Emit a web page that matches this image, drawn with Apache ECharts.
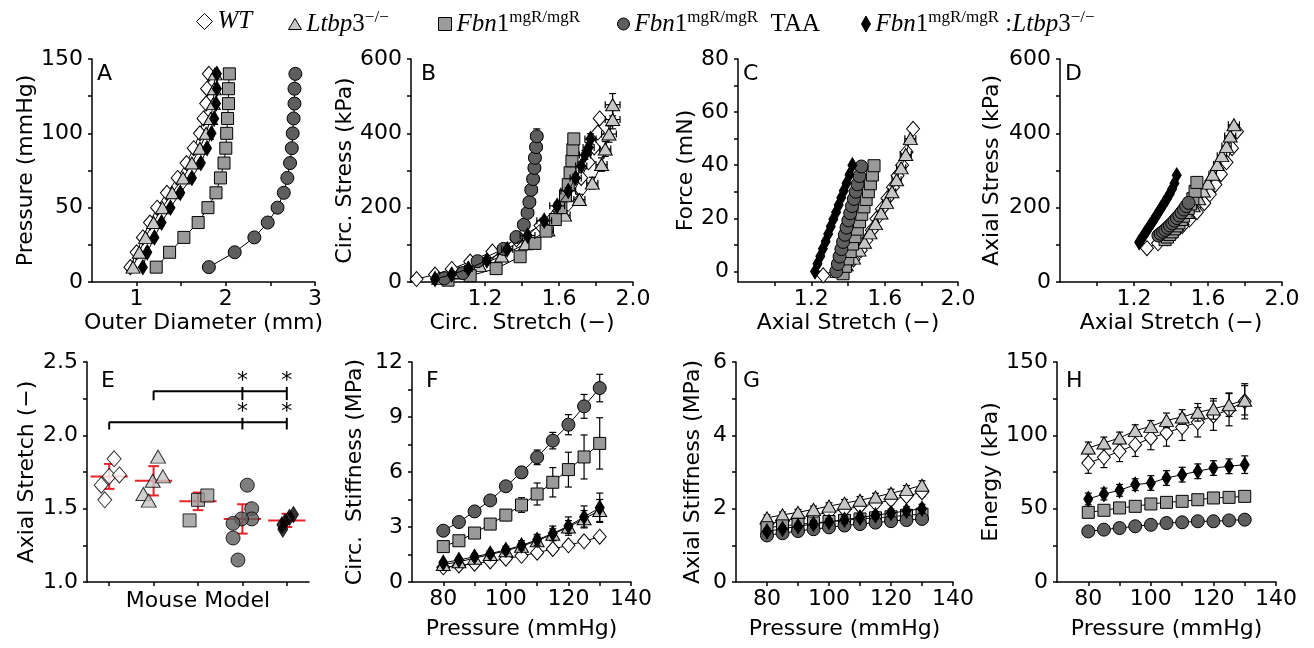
<!DOCTYPE html>
<html><head><meta charset="utf-8">
<script src="https://cdn.jsdelivr.net/npm/echarts@6/dist/echarts.min.js"></script>
<style>html,body{margin:0;padding:0;background:#fff}#c{width:1314px;height:648px}</style>
</head><body><div id="c"></div>
<script>
// ---------------- DATA ----------------
const groups = ['WT', 'Ltbp3', 'Fbn1', 'TAA', 'FL'];

// Panel A: pressure (mmHg) vs outer diameter (mm)
const pressureA = [10,20,30,40,50,60,70,80,90,100,110,120,130,140];
const diamA_WT  = [0.93,1.00,1.07,1.15,1.23,1.34,1.46,1.56,1.64,1.71,1.75,1.78,1.79,1.81];
const diamA_Lt  = [0.96,1.03,1.10,1.19,1.29,1.40,1.52,1.62,1.71,1.78,1.83,1.86,1.87,1.88];
const diamA_Fb  = [1.22,1.37,1.53,1.69,1.80,1.89,1.94,1.98,2.00,2.01,2.02,2.03,2.03,2.04];
const diamA_TAA = [1.81,2.10,2.32,2.47,2.58,2.65,2.69,2.72,2.74,2.75,2.76,2.77,2.77,2.78];
const diamA_FL  = [1.07,1.12,1.20,1.28,1.38,1.49,1.62,1.72,1.79,1.84,1.87,1.89,1.90,1.90];
const errA_WT  = [0.01,0.01,0.01,0.01,0.01,0.01,0.01,0.01,0.01,0.01,0.01,0.01,0.01,0.01];
const errA_Lt  = [0.01,0.01,0.01,0.01,0.01,0.01,0.02,0.02,0.02,0.02,0.02,0.02,0.02,0.02];
const errA_Fb  = [0.01,0.01,0.01,0.01,0.01,0.01,0.01,0.01,0.01,0.01,0.01,0.01,0.01,0.01];
const errA_TAA = [0.02,0.03,0.03,0.03,0.03,0.03,0.03,0.03,0.03,0.03,0.03,0.03,0.03,0.03];
const errA_FL  = [0.01,0.01,0.02,0.02,0.02,0.03,0.03,0.03,0.02,0.02,0.02,0.02,0.02,0.02];

// Panel B: circumferential stretch vs circumferential stress (kPa)
const stB_WT  = [0.83,0.93,1.02,1.12,1.24,1.37,1.50,1.60,1.67,1.72,1.76,1.79,1.81,1.82];
const sB_WT   = [8,20,35,55,82,115,152,192,236,280,322,362,402,440];
const stB_Lt  = [0.95,1.06,1.17,1.29,1.42,1.54,1.63,1.71,1.78,1.83,1.85,1.87,1.89,1.89];
const sB_Lt   = [10,24,44,70,103,140,180,222,266,316,358,398,437,477];
const stB_Fb  = [1.00,1.12,1.26,1.39,1.47,1.53,1.58,1.61,1.635,1.65,1.66,1.67,1.675,1.68];
const sB_Fb   = [5,17,36,68,104,137,168,200,232,262,294,326,356,385];
const stB_TAA = [0.98,1.08,1.16,1.30,1.37,1.41,1.43,1.44,1.45,1.46,1.467,1.47,1.476,1.48];
const sB_TAA  = [10,24,56,89,121,154,186,215,248,277,307,334,363,392];
const stB_FL  = [0.93,1.02,1.11,1.21,1.32,1.43,1.52,1.59,1.65,1.69,1.72,1.74,1.76,1.77];
const sB_FL   = [8,20,36,58,88,125,165,205,245,280,312,342,362,385];
const exB_WT  = [0.01,0.01,0.01,0.01,0.01,0.01,0.01,0.01,0.01,0.01,0.01,0.01,0.01,0.01];
const eyB_WT  = [1,1,2,2,3,3,4,4,5,5,6,6,7,8];
const exB_Lt  = [0.01,0.01,0.02,0.02,0.02,0.03,0.03,0.03,0.03,0.03,0.03,0.04,0.04,0.04];
const eyB_Lt  = [2,3,4,6,8,10,12,14,16,18,20,22,25,30];
const exB_Fb  = [0.01,0.01,0.01,0.01,0.01,0.015,0.015,0.015,0.015,0.015,0.015,0.015,0.015,0.015];
const eyB_Fb  = [1,2,3,4,5,6,7,8,9,10,11,12,13,14];
const exB_TAA = [0.01,0.02,0.02,0.03,0.03,0.03,0.03,0.03,0.03,0.03,0.03,0.03,0.03,0.03];
const eyB_TAA = [2,3,4,5,6,8,9,10,11,12,14,15,17,20];
const exB_FL  = [0.01,0.01,0.02,0.02,0.03,0.04,0.04,0.04,0.04,0.03,0.03,0.03,0.03,0.03];
const eyB_FL  = [1,2,3,4,5,6,7,8,9,10,11,12,13,14];

// Panel C: axial stretch vs force (mN)
const stC_WT  = [1.265,1.36,1.43,1.47,1.50,1.53,1.555,1.585,1.615,1.645,1.67,1.695,1.72,1.755];
const fC_WT   = [-1.5,1.5,4.5,8,11.7,15.5,19.8,23.5,27.5,31.7,36,40,45,53.7];
const stC_Lt  = [1.34,1.39,1.43,1.46,1.49,1.52,1.55,1.58,1.61,1.64,1.665,1.69,1.715,1.74];
const fC_Lt   = [0,2.5,5,8,11,14.5,18,22,26,30,34.5,39,44,50];
const stC_Fb  = [1.373,1.386,1.399,1.412,1.425,1.438,1.451,1.463,1.475,1.487,1.499,1.511,1.522,1.533,1.542];
const fC_Fb   = [-0.9,1.9,4.7,7.5,10.3,13.1,15.9,18.7,21.5,24.3,27.1,30.0,33.0,36.3,39.8];
const stC_TAA = [1.336,1.345,1.354,1.364,1.373,1.383,1.392,1.402,1.412,1.422,1.432,1.442,1.452,1.462,1.473];
const fC_TAA  = [0.0,2.8,5.6,8.4,11.1,13.8,16.5,19.2,21.9,24.6,27.3,30.0,32.8,35.9,39.5];
const stC_FL  = [1.220,1.234,1.249,1.263,1.278,1.292,1.306,1.320,1.335,1.349,1.363,1.377,1.392,1.408,1.424];
const fC_FL   = [0.0,2.9,5.7,8.5,11.3,14.1,16.9,19.6,22.3,25.0,27.7,30.4,33.2,36.4,40.0];
const exC_Lt  = [0.005,0.005,0.01,0.01,0.01,0.01,0.015,0.015,0.02,0.02,0.025,0.025,0.03,0.03];
const exC_Fb  = [0.005,0.005,0.005,0.005,0.01,0.01,0.01,0.01,0.01,0.01,0.01,0.01,0.01,0.01,0.01];

// Panel D: axial stretch vs axial stress (kPa)
const stD_WT  = [1.27,1.33,1.38,1.42,1.46,1.50,1.54,1.58,1.61,1.64,1.67,1.70,1.73,1.757];
const sD_WT   = [91,104,118,133,150,168,188,212,236,262,290,322,360,405];
const stD_Lt  = [1.40,1.43,1.46,1.49,1.52,1.55,1.575,1.60,1.625,1.65,1.675,1.70,1.72,1.74];
const sD_Lt   = [140,155,170,187,205,224,245,266,290,316,340,365,393,423];
const stD_Fb  = [1.368,1.381,1.393,1.406,1.418,1.431,1.443,1.456,1.468,1.481,1.493,1.506,1.518,1.530,1.540];
const sD_Fb   = [114,121,128,135,143,151,159,168,177,187,198,210,224,244,268];
const stD_TAA = [1.332,1.344,1.357,1.369,1.382,1.394,1.407,1.419,1.432,1.445,1.457,1.470,1.482,1.495];
const sD_TAA  = [125,130,135,140,146,152,158,165,172,179,187,195,204,213];
const stD_FL  = [1.228,1.243,1.258,1.273,1.288,1.303,1.318,1.333,1.348,1.363,1.378,1.393,1.406,1.419,1.431];
const sD_FL   = [107,118,130,141,153,164,176,188,200,212,224,237,250,266,287];
const exD_Lt  = [0.005,0.005,0.01,0.01,0.01,0.01,0.015,0.015,0.02,0.02,0.025,0.025,0.03,0.03];

// Panel E: axial stretch per mouse model (category index + jitter)
const jitE_WT  = [0.11,-0.18,0.00,0.23,-0.10];
const valE_WT  = [1.84,1.66,1.72,1.73,1.56];
const jitE_Lt  = [0.10,-0.02,0.21,-0.23,-0.11];
const valE_Lt  = [1.855,1.69,1.72,1.60,1.555];
const jitE_Fb  = [0.00,0.21,-0.19];
const valE_Fb  = [1.56,1.59,1.42];
const jitE_TAA = [0.11,0.21,0.21,-0.02,-0.21,-0.21,-0.10];
const valE_TAA = [1.66,1.50,1.43,1.43,1.40,1.30,1.15];
const jitE_FL  = [0.15,0.06,-0.04,-0.11,-0.09];
const valE_FL  = [1.46,1.44,1.41,1.39,1.36];
const meanE = [1.72,1.69,1.55,1.43,1.42];
const seE   = [0.085,0.10,0.06,0.10,0.045];
const bracketFrom = [0,1];
const bracketTo   = [4,4];
const bracketY    = [2.09,2.30];
const bracketDrop = [2.04,2.24];
const bracketTip  = [2.12,2.33];
const starCats    = [3,4];
const starY       = [2.16,2.37];

// Panels F, G, H: vs pressure
const pressureFGH = [80,85,90,95,100,105,110,115,120,125,130];
const F_WT  = [0.80,0.90,1.00,1.12,1.27,1.43,1.60,1.80,2.00,2.22,2.47];
const F_Lt  = [0.95,1.10,1.30,1.50,1.70,1.95,2.25,2.60,3.00,3.45,3.90];
const F_Fb  = [1.93,2.25,2.67,3.16,3.65,4.20,4.80,5.44,6.13,6.82,7.56];
const F_TAA = [2.80,3.27,3.85,4.45,5.22,5.98,6.80,7.71,8.58,9.58,10.58];
const F_FL  = [1.05,1.20,1.38,1.55,1.75,2.00,2.30,2.65,3.05,3.55,4.05];
const eF_WT  = [0.05,0.05,0.05,0.05,0.06,0.06,0.07,0.08,0.09,0.10,0.12];
const eF_Lt  = [0.10,0.10,0.10,0.15,0.15,0.20,0.25,0.30,0.35,0.45,0.60];
const eF_Fb  = [0.15,0.15,0.20,0.25,0.30,0.40,0.60,0.80,0.95,1.20,1.40];
const eF_TAA = [0.10,0.10,0.12,0.15,0.20,0.30,0.40,0.45,0.55,0.65,0.75];
const eF_FL  = [0.10,0.10,0.15,0.15,0.20,0.25,0.30,0.40,0.50,0.60,0.80];

const G_WT  = [1.58,1.66,1.74,1.82,1.90,1.98,2.06,2.14,2.24,2.34,2.45];
const G_Lt  = [1.75,1.83,1.90,1.98,2.07,2.15,2.23,2.32,2.42,2.52,2.64];
const G_Fb  = [1.48,1.53,1.57,1.61,1.65,1.68,1.72,1.75,1.78,1.82,1.85];
const G_TAA = [1.27,1.33,1.39,1.44,1.49,1.54,1.58,1.62,1.66,1.69,1.72];
const G_FL  = [1.38,1.45,1.52,1.58,1.64,1.70,1.76,1.82,1.88,1.94,2.00];
const eG_all = [0.08,0.08,0.08,0.09,0.09,0.10,0.10,0.10,0.11,0.11,0.12];

const H_WT  = [81.1,85.0,89.1,93.6,98.2,101.6,105.5,108.9,113.4,117.5,123.2];
const H_Lt  = [91.4,94.8,98.2,103.2,106.1,110.2,112.5,115.7,118.0,120.9,123.9];
const H_Fb  = [47.5,48.9,50.5,51.6,53.2,54.3,55.0,56.1,57.3,57.7,58.4];
const H_TAA = [34.5,35.7,36.8,38.0,39.0,40.2,40.7,41.4,41.4,42.0,42.5];
const H_FL  = [56.6,60.0,62.5,66.4,67.5,70.9,73.2,75.5,77.7,78.9,80.0];
const eH_WT  = [7,7,7,8,8,9,9,10,10,11,12];
const eH_Lt  = [4,4,4,4,4,5,5,6,7,8,10];
const eH_Fb  = [3,3,3,3,3,3,3,3,3,3,3];
const eH_TAA = [1,1,1,1,1,1,1,1,1,1,1];
const eH_FL  = [4,4,4,4,5,5,5,5,5,5,6];

// Tick values / labels
const ticksA_x = [1,1.5,2,2.5,3], labelsA_x = [1,2,3];
const ticksA_y = [0,25,50,75,100,125,150], labelsA_y = [0,50,100,150];
const ticksStretch = [1.0,1.2,1.4,1.6,1.8,2.0], labelsStretch = [1.2,1.6,2.0];
const ticksB_y = [0,100,200,300,400,500,600], labelsB_y = [0,200,400,600];
const ticksC_y = [0,10,20,30,40,50,60,70,80], labelsC_y = [0,20,40,60,80];
const ticksE_x = [0,1,2,3,4];
const ticksE_y = [1.0,1.25,1.5,1.75,2.0,2.25,2.5], labelsE_y = [1.0,1.5,2.0,2.5];
const ticksP = [80,90,100,110,120,130,140], labelsP = [80,100,120,140];
const ticksF_y = [0,1.5,3,4.5,6,7.5,9,10.5,12], labelsF_y = [0,3,6,9,12];
const ticksG_y = [0,1,2,3,4,5,6], labelsG_y = [0,2,4,6];
const ticksH_y = [0,25,50,75,100,125,150], labelsH_y = [0,50,100,150];

// ---------------- STYLE ----------------
const FONT = 'DejaVu Sans';
const FS = 22;
const groupStyle = {
  WT:    {symbol:'diamond',  size:[13,15], color:'#ffffff'},
  Ltbp3: {symbol:'triangle', size:[14,12], color:'#c6c6c6'},
  Fbn1:  {symbol:'rect',     size:[12,12], color:'#9a9a9a'},
  TAA:   {symbol:'circle',   size:[13,13], color:'#5e5e5e'},
  FL:    {symbol:'diamond',  size:[9,15],  color:'#000000'}
};
const grids = [
  {left:92,  top:59,  width:223, height:223},
  {left:411, top:59,  width:222, height:223},
  {left:738, top:59,  width:220, height:223},
  {left:1060,top:59,  width:222, height:223},
  {left:87,  top:362, width:222, height:220},
  {left:412, top:362, width:219, height:220},
  {left:736, top:362, width:217, height:220},
  {left:1057,top:362, width:219, height:220}
];

function axisBase(ticks, labels, fmt, margin) {
  return {
    axisLine:{show:true, onZero:false, lineStyle:{color:'#000', width:1.5}},
    axisTick:{show:true, inside:false, length:4, lineStyle:{color:'#000', width:1.5}, customValues:ticks},
    axisLabel:{show:labels !== null, customValues:labels || [], margin:margin, color:'#000', fontSize:FS, fontFamily:FONT,
      formatter: fmt || (v => String(v))},
    splitLine:{show:false},
    nameTextStyle:{color:'#000', fontSize:FS, fontFamily:FONT}
  };
}
const f1 = v => Number(v).toFixed(1);
function xAxisDef(gi, min, max, ticks, labels, name, gap, fmt) {
  return Object.assign(axisBase(ticks, labels, fmt, 6), {type:'value', gridIndex:gi, min, max, name, nameLocation:'middle', nameGap:gap});
}
function yAxisDef(gi, min, max, ticks, labels, name, gap, fmt) {
  return Object.assign(axisBase(ticks, labels, fmt, 9), {type:'value', gridIndex:gi, min, max, name, nameLocation:'middle', nameGap:gap});
}

const xAxes = [
  xAxisDef(0, 0.5, 3, ticksA_x, labelsA_x, 'Outer Diameter (mm)', 30),
  xAxisDef(1, 0.8, 2.0, ticksStretch, labelsStretch, 'Circ.  Stretch (\u2212)', 30, f1),
  xAxisDef(2, 0.8, 2.0, ticksStretch, labelsStretch, 'Axial Stretch (\u2212)', 30, f1),
  xAxisDef(3, 0.8, 2.0, ticksStretch, labelsStretch, 'Axial Stretch (\u2212)', 30, f1),
  xAxisDef(4, -0.5, 4.5, ticksE_x, null, 'Mouse Model', 8),
  xAxisDef(5, 70, 140, ticksP, labelsP, 'Pressure (mmHg)', 36),
  xAxisDef(6, 70, 140, ticksP, labelsP, 'Pressure (mmHg)', 36),
  xAxisDef(7, 70, 140, ticksP, labelsP, 'Pressure (mmHg)', 36)
];
const yAxes = [
  yAxisDef(0, 0, 150, ticksA_y, labelsA_y, 'Pressure (mmHg)', 50),
  yAxisDef(1, 0, 600, ticksB_y, labelsB_y, 'Circ. Stress (kPa)', 55),
  yAxisDef(2, -4, 80, ticksC_y, labelsC_y, 'Force (mN)', 40),
  yAxisDef(3, 0, 600, ticksB_y, labelsB_y, 'Axial Stress (kPa)', 57),
  yAxisDef(4, 1.0, 2.5, ticksE_y, labelsE_y, 'Axial Stretch (\u2212)', 49, f1),
  yAxisDef(5, 0, 12, ticksF_y, labelsF_y, 'Circ.  Stiffness (MPa)', 46),
  yAxisDef(6, 0, 6, ticksG_y, labelsG_y, 'Axial Stiffness (MPa)', 32),
  yAxisDef(7, 0, 150, ticksH_y, labelsH_y, 'Energy (kPa)', 51)
];

const series = [];
function zip(xs, ys) { return xs.map((x, i) => [x, ys[i]]); }
function curve(gi, g, xs, ys) {
  const st = groupStyle[g];
  const gIdx = groups.indexOf(g);
  series.push({
    type:'line', name:g, xAxisIndex:gi, yAxisIndex:gi, data:zip(xs, ys),
    symbol:st.symbol, symbolSize:st.size, showSymbol:true,
    lineStyle:{color:'#000', width:1},
    itemStyle:{color:st.color, borderColor:'#000', borderWidth:1},
    emphasis:{disabled:true}, animation:false, z: 3 + 2 * gIdx, silent:true
  });
}
function errRender(params, api) {
  const x = api.value(0), y = api.value(1), ex = api.value(2), ey = api.value(3);
  const c = api.coord([x, y]);
  const cap = 3.5;
  const st = {stroke:'#000', lineWidth:1.2};
  const ch = [];
  if (ex > 0) {
    const l = api.coord([x - ex, y]), r = api.coord([x + ex, y]);
    ch.push({type:'line', shape:{x1:l[0], y1:c[1], x2:r[0], y2:c[1]}, style:st});
    ch.push({type:'line', shape:{x1:l[0], y1:c[1]-cap, x2:l[0], y2:c[1]+cap}, style:st});
    ch.push({type:'line', shape:{x1:r[0], y1:c[1]-cap, x2:r[0], y2:c[1]+cap}, style:st});
  }
  if (ey > 0) {
    const t = api.coord([x, y + ey]), b = api.coord([x, y - ey]);
    ch.push({type:'line', shape:{x1:c[0], y1:t[1], x2:c[0], y2:b[1]}, style:st});
    ch.push({type:'line', shape:{x1:c[0]-cap, y1:t[1], x2:c[0]+cap, y2:t[1]}, style:st});
    ch.push({type:'line', shape:{x1:c[0]-cap, y1:b[1], x2:c[0]+cap, y2:b[1]}, style:st});
  }
  return {type:'group', children:ch};
}
function errs(gi, g, xs, ys, ex, ey) {
  const gIdx = groups.indexOf(g);
  series.push({
    type:'custom', xAxisIndex:gi, yAxisIndex:gi, renderItem:errRender,
    data: xs.map((x, i) => [x, ys[i], ex ? ex[i] : 0, ey ? ey[i] : 0]),
    encode:{x:0, y:1}, animation:false, silent:true, z: 2 + 2 * gIdx
  });
}

// Panel A
errs(0,'WT',diamA_WT,pressureA,errA_WT,null);   curve(0,'WT',diamA_WT,pressureA);
errs(0,'Ltbp3',diamA_Lt,pressureA,errA_Lt,null); curve(0,'Ltbp3',diamA_Lt,pressureA);
errs(0,'Fbn1',diamA_Fb,pressureA,errA_Fb,null);  curve(0,'Fbn1',diamA_Fb,pressureA);
errs(0,'TAA',diamA_TAA,pressureA,errA_TAA,null); curve(0,'TAA',diamA_TAA,pressureA);
errs(0,'FL',diamA_FL,pressureA,errA_FL,null);    curve(0,'FL',diamA_FL,pressureA);
// Panel B
errs(1,'WT',stB_WT,sB_WT,exB_WT,eyB_WT);         curve(1,'WT',stB_WT,sB_WT);
errs(1,'Ltbp3',stB_Lt,sB_Lt,exB_Lt,eyB_Lt);      curve(1,'Ltbp3',stB_Lt,sB_Lt);
errs(1,'Fbn1',stB_Fb,sB_Fb,exB_Fb,eyB_Fb);       curve(1,'Fbn1',stB_Fb,sB_Fb);
errs(1,'TAA',stB_TAA,sB_TAA,exB_TAA,eyB_TAA);    curve(1,'TAA',stB_TAA,sB_TAA);
errs(1,'FL',stB_FL,sB_FL,exB_FL,eyB_FL);         curve(1,'FL',stB_FL,sB_FL);
// Panel C
curve(2,'WT',stC_WT,fC_WT);
errs(2,'Ltbp3',stC_Lt,fC_Lt,exC_Lt,null);        curve(2,'Ltbp3',stC_Lt,fC_Lt);
errs(2,'Fbn1',stC_Fb,fC_Fb,exC_Fb,null);         curve(2,'Fbn1',stC_Fb,fC_Fb);
curve(2,'TAA',stC_TAA,fC_TAA);
curve(2,'FL',stC_FL,fC_FL);
// Panel D
curve(3,'WT',stD_WT,sD_WT);
errs(3,'Ltbp3',stD_Lt,sD_Lt,exD_Lt,null);        curve(3,'Ltbp3',stD_Lt,sD_Lt);
curve(3,'Fbn1',stD_Fb,sD_Fb);
curve(3,'TAA',stD_TAA,sD_TAA);
curve(3,'FL',stD_FL,sD_FL);

// Panel E
const eGroups = [[jitE_WT,valE_WT,'WT'],[jitE_Lt,valE_Lt,'Ltbp3'],[jitE_Fb,valE_Fb,'Fbn1'],[jitE_TAA,valE_TAA,'TAA'],[jitE_FL,valE_FL,'FL']];
series.push({
  type:'custom', xAxisIndex:4, yAxisIndex:4, animation:false, silent:true, z:1,
  data: meanE.map((m, i) => [i, m, seE[i]]), encode:{x:0, y:1},
  renderItem:(params, api) => {
    const i = api.value(0), m = api.value(1), se = api.value(2);
    const st = {stroke:'#e8232a', lineWidth:2};
    const a = api.coord([i - 0.42, m]), b = api.coord([i + 0.42, m]);
    const t = api.coord([i, m + se]), d = api.coord([i, m - se]);
    const cl = api.coord([i - 0.12, m])[0], cr = api.coord([i + 0.12, m])[0];
    return {type:'group', children:[
      {type:'line', shape:{x1:a[0], y1:a[1], x2:b[0], y2:b[1]}, style:st},
      {type:'line', shape:{x1:t[0], y1:t[1], x2:d[0], y2:d[1]}, style:st},
      {type:'line', shape:{x1:cl, y1:t[1], x2:cr, y2:t[1]}, style:st},
      {type:'line', shape:{x1:cl, y1:d[1], x2:cr, y2:d[1]}, style:st}
    ]};
  }
});
eGroups.forEach(([jit, vals, g], ci) => {
  const st = groupStyle[g];
  series.push({
    type:'scatter', name:g, xAxisIndex:4, yAxisIndex:4,
    data: jit.map((j, k) => [ci + j, vals[k]]),
    symbol:st.symbol, symbolSize: g === 'FL' ? [10,16] : [st.size[0] + 1, st.size[1] + 1],
    itemStyle:{color:st.color, borderColor:'#000', borderWidth:1},
    emphasis:{disabled:true}, animation:false, silent:true, z:5
  });
});
bracketFrom.forEach((fr, k) => {
  series.push({type:'line', xAxisIndex:4, yAxisIndex:4, symbol:'none', animation:false, silent:true, z:4,
    lineStyle:{color:'#000', width:2},
    data:[[fr, bracketDrop[k]], [fr, bracketY[k]], [bracketTo[k], bracketY[k]]]});
  starCats.forEach(sc => {
    series.push({type:'line', xAxisIndex:4, yAxisIndex:4, symbol:'none', animation:false, silent:true, z:4,
      lineStyle:{color:'#000', width:2},
      data:[[sc, bracketDrop[k]], [sc, bracketTip[k]]]});
  });
});
series.push({
  type:'custom', xAxisIndex:4, yAxisIndex:4, animation:false, silent:true, z:6,
  data: starY.flatMap(y => starCats.map(c => [c, y])), encode:{x:0, y:1},
  renderItem:(params, api) => {
    const p = api.coord([api.value(0), api.value(1)]);
    return {type:'text', x:p[0], y:p[1], style:{text:'*', fill:'#000', font:'22px "DejaVu Sans"', align:'center', verticalAlign:'middle'}};
  }
});

// Panel F
errs(5,'WT',pressureFGH,F_WT,null,eF_WT);     curve(5,'WT',pressureFGH,F_WT);
errs(5,'Ltbp3',pressureFGH,F_Lt,null,eF_Lt);  curve(5,'Ltbp3',pressureFGH,F_Lt);
errs(5,'Fbn1',pressureFGH,F_Fb,null,eF_Fb);   curve(5,'Fbn1',pressureFGH,F_Fb);
errs(5,'TAA',pressureFGH,F_TAA,null,eF_TAA);  curve(5,'TAA',pressureFGH,F_TAA);
errs(5,'FL',pressureFGH,F_FL,null,eF_FL);     curve(5,'FL',pressureFGH,F_FL);
// Panel G
errs(6,'WT',pressureFGH,G_WT,null,eG_all);    curve(6,'WT',pressureFGH,G_WT);
errs(6,'Ltbp3',pressureFGH,G_Lt,null,eG_all); curve(6,'Ltbp3',pressureFGH,G_Lt);
errs(6,'Fbn1',pressureFGH,G_Fb,null,eG_all);  curve(6,'Fbn1',pressureFGH,G_Fb);
errs(6,'TAA',pressureFGH,G_TAA,null,eG_all);  curve(6,'TAA',pressureFGH,G_TAA);
errs(6,'FL',pressureFGH,G_FL,null,eG_all);    curve(6,'FL',pressureFGH,G_FL);
// Panel H
errs(7,'WT',pressureFGH,H_WT,null,eH_WT);     curve(7,'WT',pressureFGH,H_WT);
errs(7,'Ltbp3',pressureFGH,H_Lt,null,eH_Lt);  curve(7,'Ltbp3',pressureFGH,H_Lt);
errs(7,'Fbn1',pressureFGH,H_Fb,null,eH_Fb);   curve(7,'Fbn1',pressureFGH,H_Fb);
errs(7,'TAA',pressureFGH,H_TAA,null,eH_TAA);  curve(7,'TAA',pressureFGH,H_TAA);
errs(7,'FL',pressureFGH,H_FL,null,eH_FL);     curve(7,'FL',pressureFGH,H_FL);

// Panel letters
const panelLetters = ['A','B','C','D','E','F','G','H'];
const letterPos = [[97,63],[421,63],[743,63],[1065,63],[101,370],[426,370],[743,370],[1066,370]];
const titles = panelLetters.map((t, i) => ({
  text:t, left:letterPos[i][0], top:letterPos[i][1], padding:0,
  textStyle:{fontSize:22, fontWeight:'normal', fontFamily:FONT, color:'#000'}
}));

// Legend
const SERIF = 'Liberation Serif';
const legendText = {
  WT:'{it|WT}',
  Ltbp3:'{it|Ltbp}{rm|3}{sup|\u2212/\u2212}',
  Fbn1:'{it|Fbn}{rm|1}{sup|mgR/mgR}',
  TAA:'{it|Fbn}{rm|1}{sup|mgR/mgR}{rm|  TAA}',
  FL:'{it|Fbn}{rm|1}{sup|mgR/mgR}{rm| :}{it|Ltbp}{rm|3}{sup|\u2212/\u2212}'
};
const legendLeft = [191, 283, 433, 612, 856];
const legendIconSize = [[16,16],[13,11],[13,13],[12,12],[9,16]];
const legends = groups.map((g, i) => ({
  data:[g], left:legendLeft[i], top:4, selectedMode:false,
  icon: groupStyle[g].symbol, itemWidth:legendIconSize[i][0], itemHeight:legendIconSize[i][1],
  itemStyle:{borderColor:'#000', borderWidth:1},
  formatter: name => legendText[name],
  textStyle:{color:'#000', fontFamily:SERIF, fontSize:25, rich:{
    it:{fontFamily:SERIF, fontStyle:'italic', fontSize:25, color:'#000', lineHeight:30},
    rm:{fontFamily:SERIF, fontSize:25, color:'#000', lineHeight:30},
    sup:{fontFamily:SERIF, fontSize:17, color:'#000', verticalAlign:'top', lineHeight:18}
  }}
}));

const chart = echarts.init(document.getElementById('c'), null, {renderer:'canvas'});
chart.setOption({
  backgroundColor:'#ffffff',
  animation:false,
  title:titles,
  legend:legends,
  grid:grids,
  xAxis:xAxes,
  yAxis:yAxes,
  series:series
});
</script></body></html>
